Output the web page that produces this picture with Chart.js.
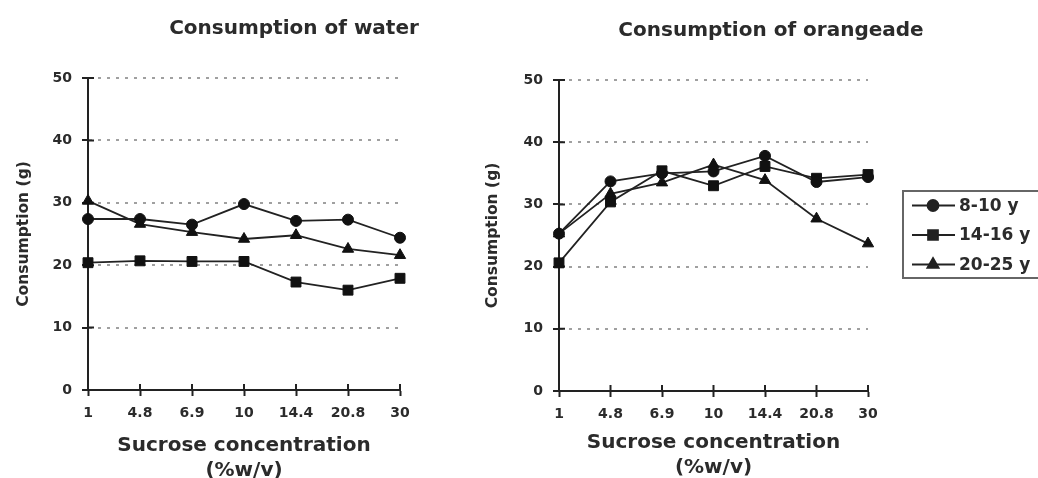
<!DOCTYPE html>
<html>
<head>
<meta charset="utf-8">
<script src="https://cdn.jsdelivr.net/npm/chart.js@4.4.1/dist/chart.umd.min.js"></script>
<style>
  html, body { margin: 0; padding: 0; background: #fff; width: 1038px; height: 478px; overflow: hidden; }
  #waterBox { position: absolute; left: 0; top: 0; width: 470px; height: 490px; }
  #orangeBox { position: absolute; left: 470px; top: 0; width: 568px; height: 490px; }
</style>
</head>
<body>
<div id="waterBox"><canvas id="waterChart"></canvas></div>
<div id="orangeBox"><canvas id="orangeChart"></canvas></div>
<script>
// data
const sucroseLabels = ['1', '4.8', '6.9', '10', '14.4', '20.8', '30'];
const ageGroups     = ['8-10 y', '14-16 y', '20-25 y'];
const yTicks        = [0, 10, 20, 30, 40, 50];

const water8to10    = [27.4, 27.4, 26.5, 29.8, 27.1, 27.3, 24.4];
const water14to16   = [20.4, 20.7, 20.6, 20.6, 17.3, 16.0, 17.9];
const water20to25   = [30.3, 26.6, 25.3, 24.2, 24.8, 22.6, 21.6];

const orange8to10   = [25.3, 33.7, 35.0, 35.3, 37.8, 33.6, 34.4];
const orange14to16  = [20.6, 30.4, 35.4, 33.0, 36.1, 34.2, 34.8];
const orange20to25  = [25.3, 31.7, 33.5, 36.4, 33.9, 27.7, 23.7];

const ink      = '#222';
const textCol  = '#2b2b2b';
const fontFam  = '"DejaVu Sans", "Liberation Sans", Arial, sans-serif';
const markers  = [
  { pointStyle: 'circle',   radius: 5.5 },
  { pointStyle: 'rect',     radius: 7 },
  { pointStyle: 'triangle', radius: 6.5 }
];

// panel title drawn at a fixed x (the figure's titles sit right of the plot centre)
const panelTitle = {
  id: 'panelTitle',
  afterDraw(chart, args, opts) {
    const ctx = chart.ctx;
    ctx.save();
    ctx.font = 'bold 20px ' + fontFam;
    ctx.fillStyle = textCol;
    ctx.textAlign = 'center';
    ctx.textBaseline = 'middle';
    ctx.fillText(opts.text, opts.x, opts.y);
    ctx.restore();
  }
};

// small ticks on the inside of both axes, so they look like crosses
const crossTicks = {
  id: 'crossTicks',
  beforeDatasetsDraw(chart) {
    const ctx = chart.ctx;
    const area = chart.chartArea;
    const xs = chart.scales.x, ys = chart.scales.y;
    ctx.save();
    ctx.strokeStyle = ink;
    ctx.lineWidth = 2;
    ctx.beginPath();
    xs.ticks.forEach((t, i) => {
      const px = xs.getPixelForTick(i);
      ctx.moveTo(px, area.bottom - 6);
      ctx.lineTo(px, area.bottom);
    });
    ys.ticks.forEach(t => {
      const py = ys.getPixelForValue(t.value);
      ctx.moveTo(area.left, py);
      ctx.lineTo(area.left + 6, py);
    });
    ctx.stroke();
    ctx.restore();
  }
};

// boxed legend with line + marker samples
const boxLegend = {
  id: 'boxLegend',
  afterDraw(chart, args, opts) {
    if (!opts.show) return;
    const ctx = chart.ctx;
    ctx.save();
    ctx.strokeStyle = '#666';
    ctx.lineWidth = 2;
    ctx.strokeRect(opts.x, opts.y, opts.w, opts.h);
    chart.data.datasets.forEach((ds, i) => {
      const cy = opts.firstRow + i * opts.rowGap;
      ctx.strokeStyle = ink;
      ctx.fillStyle = ink;
      ctx.lineWidth = 1.8;
      ctx.beginPath();
      ctx.moveTo(opts.x + 9, cy);
      ctx.lineTo(opts.x + 52, cy);
      ctx.stroke();
      Chart.helpers.drawPoint(ctx, {
        pointStyle: ds.pointStyle, radius: ds.pointRadius, rotation: 0, borderWidth: 1
      }, opts.x + 30, cy);
      ctx.font = 'bold 17px ' + fontFam;
      ctx.fillStyle = textCol;
      ctx.textAlign = 'left';
      ctx.textBaseline = 'middle';
      ctx.fillText(ds.label, opts.x + 56, cy + 1);
    });
    ctx.restore();
  }
};

const makeDatasets = seriesList => seriesList.map((values, i) => ({
  label: ageGroups[i],
  data: values,
  borderColor: ink,
  backgroundColor: ink,
  borderWidth: 1.8,
  pointStyle: markers[i].pointStyle,
  pointRadius: markers[i].radius,
  pointBackgroundColor: '#111',
  pointBorderColor: '#111',
  pointBorderWidth: 1,
  tension: 0,
  clip: false
}));

const makeChart = (canvasId, seriesList, cfg) => {
  const ctx = document.getElementById(canvasId).getContext('2d');
  return new Chart(ctx, {
    type: 'line',
    data: { labels: sucroseLabels, datasets: makeDatasets(seriesList) },
    plugins: [panelTitle, crossTicks, boxLegend],
    options: {
      responsive: false,
      animation: false,
      events: [],
      layout: { padding: { top: cfg.top, left: 0, right: cfg.right, bottom: 0 } },
      plugins: {
        legend: { display: false },
        tooltip: { enabled: false },
        panelTitle: { text: cfg.title, x: cfg.titleX, y: cfg.titleY },
        boxLegend: cfg.legend
      },
      scales: {
        x: {
          offset: false,
          afterFit: s => { s.height = cfg.xHeight; },
          grid: { drawOnChartArea: false, drawTicks: true, tickLength: 6, tickColor: ink, tickWidth: 2 },
          border: { display: true, color: ink, width: 2 },
          ticks: { color: textCol, padding: 9, maxRotation: 0, autoSkip: false,
                   font: { family: fontFam, size: 14, weight: 'bold' } },
          title: {
            display: true,
            text: ['Sucrose concentration', '(%w/v)'],
            color: textCol,
            padding: { top: 0, bottom: cfg.xTitlePad },
            font: { family: fontFam, size: 20, weight: 'bold', lineHeight: 1.25 }
          }
        },
        y: {
          min: 0,
          max: 50,
          afterBuildTicks: s => { s.ticks = yTicks.map(v => ({ value: v })); },
          afterFit: s => { s.width = cfg.yWidth; },
          grid: {
            color: c => (c.tick && c.tick.value === 0) ? 'rgba(0,0,0,0)' : '#a0a0a0',
            lineWidth: 2,
            drawTicks: true, tickLength: 6, tickColor: ink, tickWidth: 2
          },
          border: { display: true, color: ink, width: 2, dash: [3, 6] },
          ticks: { color: textCol, padding: 10,
                   font: { family: fontFam, size: 14, weight: 'bold' } },
          title: {
            display: true,
            text: 'Consumption (g)',
            color: textCol,
            padding: { top: cfg.yTitlePad, bottom: 0 },
            font: { family: fontFam, size: 15.5, weight: 'bold', lineHeight: 1.2 }
          }
        }
      }
    }
  });
};

const waterCanvas = document.getElementById('waterChart');
waterCanvas.width = 470; waterCanvas.height = 490;
const orangeCanvas = document.getElementById('orangeChart');
orangeCanvas.width = 568; orangeCanvas.height = 490;

makeChart('waterChart', [water8to10, water14to16, water20to25], {
  title: 'Consumption of water', titleX: 294, titleY: 29,
  top: 78, right: 70, xHeight: 100, yWidth: 88, xTitlePad: 7, yTitlePad: 15,
  legend: { show: false }
});

makeChart('orangeChart', [orange8to10, orange14to16, orange20to25], {
  title: 'Consumption of orangeade', titleX: 301, titleY: 31,
  top: 80, right: 170, xHeight: 99, yWidth: 89, xTitlePad: 10, yTitlePad: 14,
  legend: { show: true, x: 433, y: 191, w: 170, h: 87, firstRow: 205.5, rowGap: 29.5 }
});
</script>
</body>
</html>
